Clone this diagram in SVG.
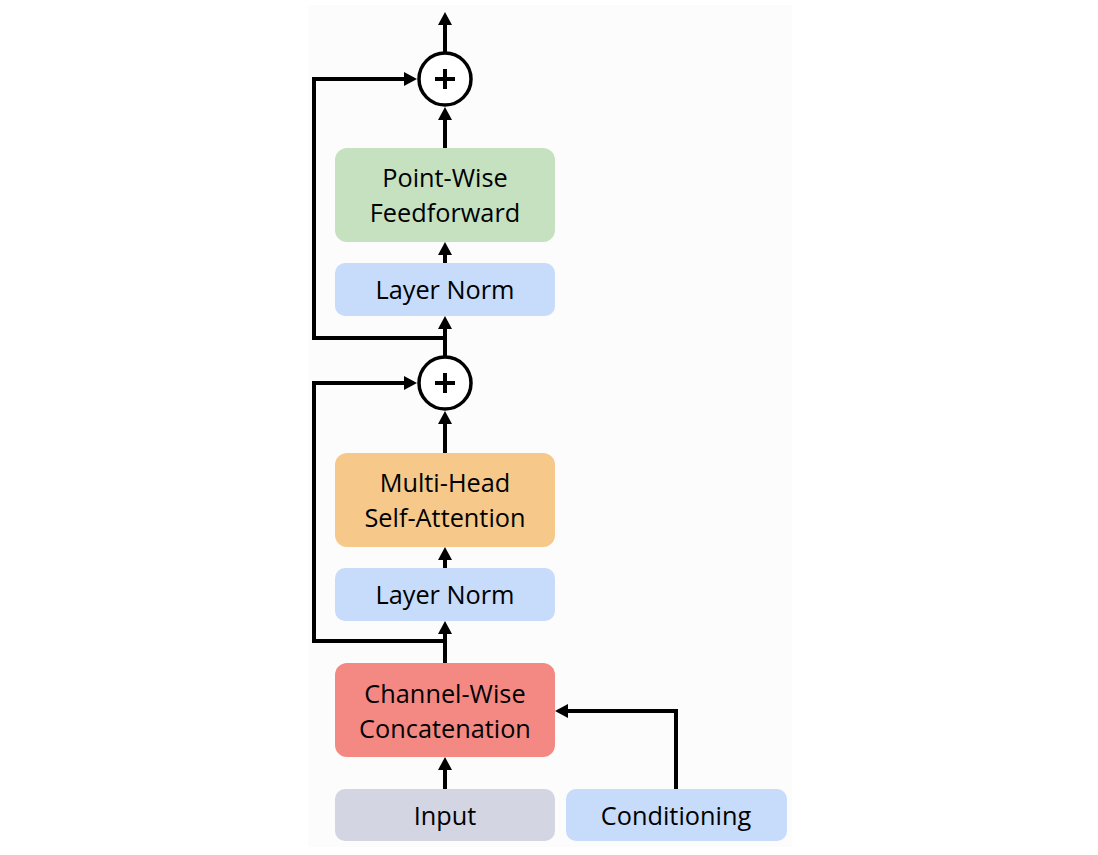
<svg xmlns="http://www.w3.org/2000/svg" width="1098" height="855" viewBox="0 0 1098 855">
<style>
.box{stroke:none}
.lbl{font-family:"Open Sans","Noto Sans",sans-serif;font-size:25.3px;fill:#000;text-anchor:middle}
.wire{fill:none;stroke:#000;stroke-width:4;stroke-linejoin:miter}
.sum{fill:#fff;stroke:#000;stroke-width:3.5}
.plus{stroke:#000;stroke-width:4;fill:none}
</style>
<defs>
<marker id="ah" markerUnits="userSpaceOnUse" markerWidth="14" markerHeight="14" viewBox="0 0 13 14" refX="2" refY="7" orient="auto">
<path d="M0,0 L13,7 L0,14 z" fill="#000"/>
</marker>
</defs>
<rect x="0" y="0" width="1098" height="855" fill="#ffffff"/>
<rect x="308" y="5" width="484" height="842" fill="#fcfcfc"/>

<g id="connectors">
<path class="wire" d="M445,789 V768" marker-end="url(#ah)"/>
<path class="wire" d="M676,789 V711 H566" marker-end="url(#ah)"/>
<path class="wire" d="M445,663 V632" marker-end="url(#ah)"/>
<path class="wire" d="M447,641 H314 V383 H406" marker-end="url(#ah)"/>
<path class="wire" d="M445,568 V558" marker-end="url(#ah)"/>
<path class="wire" d="M445,453 V422" marker-end="url(#ah)"/>
<path class="wire" d="M445,357 V327" marker-end="url(#ah)"/>
<path class="wire" d="M447,338 H314 V79 H406" marker-end="url(#ah)"/>
<path class="wire" d="M445,263 V253" marker-end="url(#ah)"/>
<path class="wire" d="M445,148 V118" marker-end="url(#ah)"/>
<path class="wire" d="M445,53 V23" marker-end="url(#ah)"/>
</g>

<g id="input">
<rect class="box" x="335" y="789" width="220" height="52" rx="10" fill="#d3d5e3"/>
<text class="lbl" x="445" y="825">Input</text>
</g>
<g id="conditioning">
<rect class="box" x="566" y="789" width="221" height="52" rx="10" fill="#c7dbfb"/>
<text class="lbl" x="676" y="825">Conditioning</text>
</g>
<g id="concat">
<rect class="box" x="335" y="663" width="220" height="94" rx="12" fill="#f48984"/>
<text class="lbl" x="445" y="703">Channel-Wise</text>
<text class="lbl" x="445" y="738">Concatenation</text>
</g>
<g id="layernorm1">
<rect class="box" x="335" y="568" width="220" height="53" rx="10" fill="#c7dbfb"/>
<text class="lbl" x="445" y="604">Layer Norm</text>
</g>
<g id="attention">
<rect class="box" x="335" y="453" width="220" height="94" rx="12" fill="#f6c98a"/>
<text class="lbl" x="445" y="492">Multi-Head</text>
<text class="lbl" x="445" y="527">Self-Attention</text>
</g>
<g id="add1">
<circle class="sum" cx="445" cy="383" r="26"/>
<path class="plus" d="M435,383 H455 M445,373 V393"/>
</g>
<g id="layernorm2">
<rect class="box" x="335" y="263" width="220" height="53" rx="10" fill="#c7dbfb"/>
<text class="lbl" x="445" y="299">Layer Norm</text>
</g>
<g id="feedforward">
<rect class="box" x="335" y="148" width="220" height="94" rx="12" fill="#c5e1c0"/>
<text class="lbl" x="445" y="187">Point-Wise</text>
<text class="lbl" x="445" y="222">Feedforward</text>
</g>
<g id="add2">
<circle class="sum" cx="445" cy="79" r="26"/>
<path class="plus" d="M435,79 H455 M445,69 V89"/>
</g>
</svg>
